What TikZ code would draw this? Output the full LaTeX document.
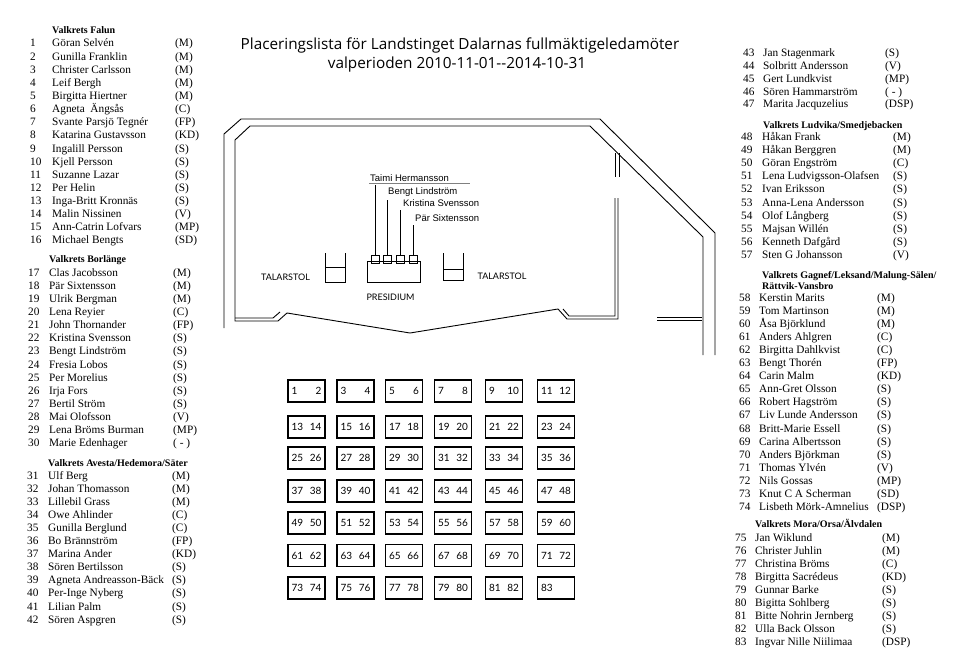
\documentclass[tikz,border=0pt]{standalone}
\usepackage{fontspec}
\setmainfont{Liberation Serif}
\newfontfamily\titlefont{Open Sans}
\newfontfamily\planfont{Lato}
\newfontfamily\namefont{Liberation Sans}
\usetikzlibrary{positioning}

\begin{document}
\begin{tikzpicture}[
  x=1pt, y=-1pt,
  wall/.style={line width=0.9pt},
  seat/.style={draw, line width=1.4pt, minimum width=37pt, minimum height=22pt, inner sep=0pt},
  seatnum/.style={font=\planfont\fontsize{10}{12}\selectfont, inner sep=0pt},
  hall/.style={font=\planfont\fontsize{9}{11}\selectfont, inner sep=0pt},
  chair/.style={draw, line width=0.8pt, minimum size=8pt, inner sep=0pt},
  prname/.style={font=\namefont\fontsize{9.5}{11}\selectfont, anchor=base west, inner sep=1pt},
  title/.style={font=\titlefont\fontsize{15.3}{17}\selectfont, inner sep=0pt},
  listhead/.style={font=\bfseries\fontsize{10}{12}\selectfont, anchor=base west, inner sep=0pt},
  listtxt/.style={font=\fontsize{11.3}{13}\selectfont, anchor=base west, inner sep=0pt}
]
\useasboundingbox (0,0) rectangle (960,658);

% title
\node[title] (title1) at (460,45) {Placeringslista för Landstinget Dalarnas fullmäktigeledamöter};
\node[title] (title2) at (457,65) {valperioden 2010-11-01-{}-2014-10-31};

% hall walls
\draw[wall] (224,328) -- (224,134) -- (241,119) -- (600,119) -- (715,233) -- (715,355);
\draw[wall] (703,355) -- (703,237) -- (590,126) -- (250,126) -- (235,140) -- (235,321)
  -- (278,321) -- (287,313) -- (410,333) -- (558,309) -- (567,319) -- (618,319) -- (618,198);
\draw[wall] (235,318) -- (273,318) -- (280,312);
\draw[wall] (563,309) -- (569,316) -- (615,316) -- (615,198);
\draw[wall] (615,153) -- (615,177);
\draw[wall] (619,153) -- (619,177);
\draw[wall] (657,317) -- (702,317);
\draw[wall] (657,320) -- (702,320);

% talarstolar och presidium
\draw[wall] (325,253) -- (325,282) -- (345,282) -- (345,253);
\draw[wall] (325,267) -- (345,267);
\draw[wall] (443,253) -- (443,280) -- (463,280) -- (463,253);
\draw[wall] (443,269) -- (463,269);
\node[hall] (talar1) at (285.5,277) {TALARSTOL};
\node[hall] (talar2) at (502,276) {TALARSTOL};
\node[draw, wall, minimum width=53pt, minimum height=21pt] (table) at (393.5,271.5) {};
\node[hall] (presidium) at (390.5,297) {PRESIDIUM};

\node[prname] (pres1) at (369,181.5) {Taimi Hermansson};
\node[prname] (pres2) at (387,194.5) {Bengt Lindström};
\node[prname] (pres3) at (402,206.5) {Kristina Svensson};
\node[prname] (pres4) at (414,221.5) {Pär Sixtensson};
\coordinate (ulend) at (470,183);
\draw[gray, thin] (pres1.south west) -- (pres1.south west -| ulend);
\foreach \k/\cx in {1/375,2/387.5,3/400.5,4/413.5}{
  \node[chair] (chair\k) at (\cx,259) {};
  \draw[wall, shorten >=2pt] (chair\k.north) -- (chair\k.north |- pres\k.south);
}

% bänkar
\foreach \r/\ry in {0/391,1/427,2/458,3/491,4/523,5/555.5,6/588}
  \foreach \c/\cx in {0/306.5,1/355.5,2/404,3/453,4/504,5/556}{
    \pgfmathtruncatemacro\a{12*\r+2*\c+1}
    \pgfmathtruncatemacro\b{\a+1}
    \node[seat] (bank\a) at (\cx,\ry) {};
    \node[seatnum, anchor=west] (snum\a) at ([xshift=4pt]bank\a.west) {\a};
    \ifnum\b<84
      \node[seatnum, anchor=east] (snum\b) at ([xshift=-4pt]bank\a.east) {\b};
    \fi
  }

% Valkrets Falun
\node[listhead] (headfalun) at (52,33.5) {Valkrets Falun};
\foreach \i/\nm/\pt in {1/Göran Selvén/(M), 2/Gunilla Franklin/(M), 3/Christer Carlsson/(M),
  4/Leif Bergh/(M), 5/Birgitta Hiertner/(M), 6/Agneta\ \ Ängsås/(C), 7/Svante Parsjö Tegnér/(FP),
  8/Katarina Gustavsson/(KD), 9/Ingalill Persson/(S), 10/Kjell Persson/(S), 11/Suzanne Lazar/(S),
  12/Per Helin/(S), 13/Inga-Britt Kronnäs/(S), 14/Malin Nissinen/(V), 15/Ann-Catrin Lofvars/(MP),
  16/Michael Bengts/(SD)}{
  \pgfmathsetmacro\yy{47+13.13*(\i-1)}
  \node[listtxt] (num\i) at (30,\yy) {\i};
  \node[listtxt] (mem\i) at (52,\yy) {\nm};
  \node[listtxt] (par\i) at (175,\yy) {\pt};
}

% Valkrets Borlänge
\node[listhead] (headborl) at (49,262.5) {Valkrets Borlänge};
\foreach \i/\nm/\pt in {17/Clas Jacobsson/(M), 18/Pär Sixtensson/(M), 19/Ulrik Bergman/(M),
  20/Lena Reyier/(C), 21/John Thornander/(FP), 22/Kristina Svensson/(S), 23/Bengt Lindström/(S),
  24/Fresia Lobos/(S), 25/Per Morelius/(S), 26/Irja Fors/(S), 27/Bertil Ström/(S),
  28/Mai Olofsson/(V), 29/Lena Bröms Burman/(MP), 30/Marie Edenhager/( - )}{
  \pgfmathsetmacro\yy{276+13.15*(\i-17)}
  \node[listtxt] (num\i) at (28,\yy) {\i};
  \node[listtxt] (mem\i) at (49,\yy) {\nm};
  \node[listtxt] (par\i) at (173,\yy) {\pt};
}

% Valkrets Avesta/Hedemora/Säter
\node[listhead] (headavesta) at (48,466.5) {Valkrets Avesta/Hedemora/Säter};
\foreach \i/\nm/\pt in {31/Ulf Berg/(M), 32/Johan Thomasson/(M), 33/Lillebil Grass/(M),
  34/Owe Ahlinder/(C), 35/Gunilla Berglund/(C), 36/Bo Brännström/(FP), 37/Marina Ander/(KD),
  38/Sören Bertilsson/(S), 39/Agneta Andreasson-Bäck/(S), 40/Per-Inge Nyberg/(S),
  41/Lilian Palm/(S), 42/Sören Aspgren/(S)}{
  \pgfmathsetmacro\yy{479+13.1*(\i-31)}
  \node[listtxt] (num\i) at (27,\yy) {\i};
  \node[listtxt] (mem\i) at (48,\yy) {\nm};
  \node[listtxt] (par\i) at (172,\yy) {\pt};
}
\foreach \i/\nm/\pt in {43/Jan Stagenmark/(S), 44/Solbritt Andersson/(V), 45/Gert Lundkvist/(MP),
  46/Sören Hammarström/( - ), 47/Marita Jacquzelius/(DSP)}{
  \pgfmathsetmacro\yy{57+12.75*(\i-43)}
  \node[listtxt] (num\i) at (743,\yy) {\i};
  \node[listtxt] (mem\i) at (763,\yy) {\nm};
  \node[listtxt] (par\i) at (885,\yy) {\pt};
}

% Valkrets Ludvika/Smedjebacken
\node[listhead] (headludvika) at (763,128.5) {Valkrets Ludvika/Smedjebacken};
\foreach \i/\nm/\pt in {48/Håkan Frank/(M), 49/Håkan Berggren/(M), 50/Göran Engström/(C),
  51/Lena Ludvigsson-Olafsen/(S), 52/Ivan Eriksson/(S), 53/Anna-Lena Andersson/(S),
  54/Olof Långberg/(S), 55/Majsan Willén/(S), 56/Kenneth Dafgård/(S), 57/Sten G Johansson/(V)}{
  \pgfmathsetmacro\yy{140+13.2*(\i-48)}
  \node[listtxt] (num\i) at (741,\yy) {\i};
  \node[listtxt] (mem\i) at (762,\yy) {\nm};
  \node[listtxt] (par\i) at (893,\yy) {\pt};
}

% Valkrets Gagnef/Leksand/Malung-Sälen/Rättvik-Vansbro
\node[listhead] (headgagnef) at (762,278.5) {Valkrets Gagnef/Leksand/Malung-Sälen/};
\node[listhead] (headgagnefb) at (762,289.5) {Rättvik-Vansbro};
\foreach \i/\nm/\pt in {58/Kerstin Marits/(M), 59/Tom Martinson/(M), 60/Åsa Björklund/(M),
  61/Anders Ahlgren/(C), 62/Birgitta Dahlkvist/(C), 63/Bengt Thorén/(FP), 64/Carin Malm/(KD),
  65/Ann-Gret Olsson/(S), 66/Robert Hagström/(S), 67/Liv Lunde Andersson/(S),
  68/Britt-Marie Essell/(S), 69/Carina Albertsson/(S), 70/Anders Björkman/(S),
  71/Thomas Ylvén/(V), 72/Nils Gossas/(MP), 73/Knut C A Scherman/(SD),
  74/Lisbeth Mörk-Amnelius/(DSP)}{
  \pgfmathsetmacro\yy{301+13.1*(\i-58)}
  \node[listtxt] (num\i) at (739,\yy) {\i};
  \node[listtxt] (mem\i) at (759,\yy) {\nm};
  \node[listtxt] (par\i) at (877,\yy) {\pt};
}

% Valkrets Mora/Orsa/Älvdalen
\node[listhead] (headmora) at (755,527.5) {Valkrets Mora/Orsa/Älvdalen};
\foreach \i/\nm/\pt in {75/Jan Wiklund/(M), 76/Christer Juhlin/(M), 77/Christina Bröms/(C),
  78/Birgitta Sacrédeus/(KD), 79/Gunnar Barke/(S), 80/Bigitta Sohlberg/(S),
  81/Bitte Nohrin Jernberg/(S), 82/Ulla Back Olsson/(S), 83/Ingvar Nille Niilimaa/(DSP)}{
  \pgfmathsetmacro\yy{541+13.1*(\i-75)}
  \node[listtxt] (num\i) at (735,\yy) {\i};
  \node[listtxt] (mem\i) at (755,\yy) {\nm};
  \node[listtxt] (par\i) at (882,\yy) {\pt};
}
\end{tikzpicture}
\end{document}
